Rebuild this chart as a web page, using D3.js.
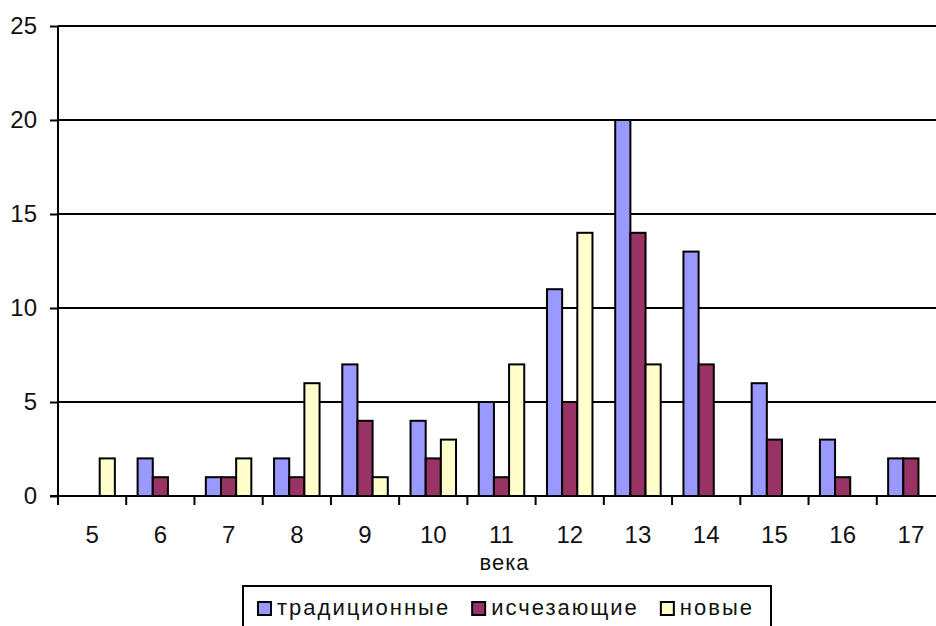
<!DOCTYPE html>
<html>
<head>
<meta charset="utf-8">
<script src="https://cdn.jsdelivr.net/npm/d3@7"></script>
<style>
  body { margin: 0; background: #fff; }
  svg { display: block; font-family: 'Liberation Sans', Arial, sans-serif; }
</style>
</head>
<body>
<div id="chart"></div>
<script>
// centuries on the X axis
const centuries = ['5', '6', '7', '8', '9', '10', '11', '12', '13', '14', '15', '16', '17']
const seriesNames = ['традиционные', 'исчезающие', 'новые']
const traditional = [0, 2, 1, 2, 7, 4, 5, 11, 20, 13, 6, 3, 2]
const vanishing = [0, 1, 1, 1, 4, 2, 1, 5, 14, 7, 3, 1, 2]
const newOnes = [2, 0, 2, 6, 1, 3, 7, 14, 7, 0, 0, 0, 0]
const yTicks = [0, 5, 10, 15, 20, 25]
const seriesColors = ['#9999ff', '#993366', '#ffffcc']

const width = 936
const height = 626
// plot area runs past the right edge of the window, like the reference
const margin = { top: 26, left: 58, right: 945, bottom: 496 }

const values = [traditional, vanishing, newOnes]
const table = centuries.map((c, i) => ({
  century: c,
  items: seriesNames.map((s, k) => ({ series: s, value: values[k][i], color: seriesColors[k] }))
}))

const svg = d3.select('#chart')
  .append('svg')
  .attr('width', width)
  .attr('height', height)

// Outer band per century, inner band per series
const x0 = d3.scaleBand()
  .domain(centuries)
  .range([margin.left, margin.right])

const x1 = d3.scaleBand()
  .domain(seriesNames)
  .range([0, x0.bandwidth()])
  .paddingOuter(0.75)

const y = d3.scaleLinear()
  .domain([0, 25])
  .range([margin.bottom, margin.top])

// horizontal grid lines
svg.append('g')
  .selectAll('line')
  .data(yTicks.filter(d => d > 0))
  .join('line')
  .attr('x1', margin.left)
  .attr('x2', width)
  .attr('y1', d => y(d))
  .attr('y2', d => y(d))
  .attr('stroke', '#000')
  .attr('stroke-width', 2)

// bars
svg.append('g')
  .selectAll('g')
  .data(table)
  .join('g')
  .attr('transform', d => `translate(${x0(d.century)},0)`)
  .selectAll('rect')
  .data(d => d.items.filter(e => e.value > 0))
  .join('rect')
  .attr('x', d => x1(d.series))
  .attr('width', x1.bandwidth())
  .attr('y', d => y(d.value))
  .attr('height', d => y(0) - y(d.value))
  .attr('fill', d => d.color)
  .attr('stroke', '#000')
  .attr('stroke-width', 2)

// Y axis
svg.append('g')
  .attr('transform', `translate(${margin.left},0)`)
  .call(d3.axisLeft(y).tickValues(yTicks).tickSize(8).tickPadding(13))
  .call(g => g.select('.domain').attr('stroke-width', 2).attr('d', `M0,${margin.top}V${margin.bottom}`))
  .call(g => g.selectAll('.tick line').attr('stroke-width', 2))
  .call(g => g.selectAll('.tick text')
    .attr('font-size', 24)
    .attr('font-family', "'Liberation Sans', Arial, sans-serif")
    .attr('fill', '#111'))

// X axis: ticks at category boundaries
const xAxis = svg.append('g')
  .attr('transform', `translate(0,${margin.bottom})`)

xAxis.append('line')
  .attr('x1', margin.left - 8)
  .attr('x2', width)
  .attr('stroke', '#000')
  .attr('stroke-width', 2)

xAxis.selectAll('line.tk')
  .data(centuries)
  .join('line')
  .attr('class', 'tk')
  .attr('x1', d => x0(d))
  .attr('x2', d => x0(d))
  .attr('y2', 9)
  .attr('stroke', '#000')
  .attr('stroke-width', 2)

xAxis.selectAll('text')
  .data(centuries)
  .join('text')
  .attr('x', d => x0(d) + x0.bandwidth() / 2)
  .attr('y', 47)
  .attr('text-anchor', 'middle')
  .attr('font-size', 24)
  .attr('fill', '#111')
  .text(d => d)

// axis title
svg.append('text')
  .attr('x', (margin.left + margin.right) / 2 + 3)
  .attr('y', 570)
  .attr('text-anchor', 'middle')
  .attr('font-size', 22)
  .attr('letter-spacing', 1)
  .attr('fill', '#111')
  .text('века')

// Legend
const legend = svg.append('g')
legend.append('rect')
  .attr('x', 243)
  .attr('y', 586)
  .attr('width', 528)
  .attr('height', 70)
  .attr('fill', '#fff')
  .attr('stroke', '#000')
  .attr('stroke-width', 2)

let lx = 258
seriesNames.forEach((s, k) => {
  legend.append('rect')
    .attr('x', lx)
    .attr('y', 602)
    .attr('width', 13)
    .attr('height', 13)
    .attr('fill', seriesColors[k])
    .attr('stroke', '#000')
    .attr('stroke-width', 2)
  const t = legend.append('text')
    .attr('x', lx + 19)
    .attr('y', 615)
    .attr('font-size', 22)
    .attr('letter-spacing', 2)
    .attr('fill', '#111')
    .text(s)
  lx += 19 + t.node().getComputedTextLength() + 22
})
</script>
</body>
</html>
